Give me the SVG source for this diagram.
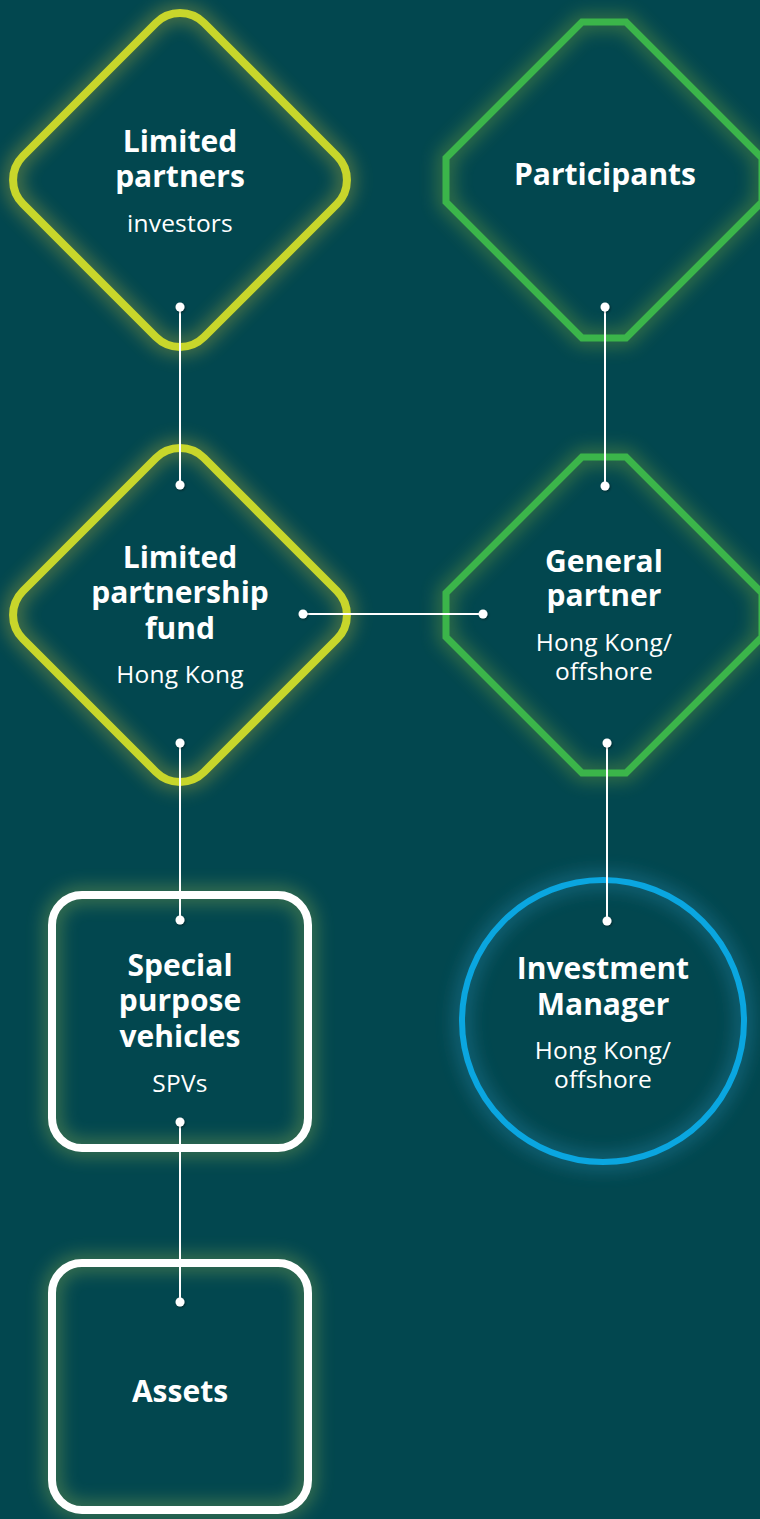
<svg xmlns="http://www.w3.org/2000/svg" width="760" height="1519" viewBox="0 0 760 1519">
<defs>
<filter id="blur" x="-30%" y="-30%" width="160%" height="160%"><feGaussianBlur stdDeviation="9"/></filter>
<filter id="dotshadow" x="-100%" y="-100%" width="300%" height="300%"><feDropShadow dx="1" dy="1" stdDeviation="1" flood-color="#000" flood-opacity="0.45"/></filter>
<rect id="dia" x="-128" y="-128" width="256" height="256" rx="34"/>
<polygon id="oct" points="-22,-158 22,-158 158,-22 158,22 22,158 -22,158 -158,22 -158,-22"/>
</defs>
<style>
.glow{fill:none;stroke-width:16;opacity:0.45;filter:url(#blur)}
.lime{fill:none;stroke:#c8d62b;stroke-width:8}
.green{fill:none;stroke:#3bb54a;stroke-width:7;stroke-linejoin:miter}
.blue{fill:none;stroke:#0aa6e0;stroke-width:6}
.white{fill:none;stroke:#ffffff;stroke-width:8}
.t{font-family:"Open Sans","Noto Sans","Liberation Sans",sans-serif;font-weight:700;font-size:30px;fill:#ffffff;text-anchor:middle}
.s{font-family:"Open Sans","Noto Sans","Liberation Sans",sans-serif;font-weight:400;font-size:24.5px;fill:#ffffff;text-anchor:middle;letter-spacing:0.2px}
.ln{stroke:#ffffff;stroke-width:2;fill:none}
.dot{fill:#ffffff;filter:url(#dotshadow)}
</style>
<rect x="0" y="0" width="760" height="1519" fill="#02474f"/>

<g id="limited-partners">
<use href="#dia" transform="translate(180,180) rotate(45)" class="glow" stroke="#b8b43a"/>
<use href="#dia" transform="translate(180,180) rotate(45)" class="lime"/>
<text class="t" x="180" y="152">Limited</text>
<text class="t" x="180" y="187">partners</text>
<text class="s" x="180" y="232">investors</text>
</g>

<g id="participants">
<use href="#oct" transform="translate(604,180)" class="glow" stroke="#7aa83a"/>
<use href="#oct" transform="translate(604,180)" class="green"/>
<text class="t" x="605" y="185">Participants</text>
</g>

<g id="limited-partnership-fund">
<use href="#dia" transform="translate(180,615) rotate(45)" class="glow" stroke="#b8b43a"/>
<use href="#dia" transform="translate(180,615) rotate(45)" class="lime"/>
<text class="t" x="180" y="568">Limited</text>
<text class="t" x="180" y="603">partnership</text>
<text class="t" x="180" y="639">fund</text>
<text class="s" x="180" y="683">Hong Kong</text>
</g>

<g id="general-partner">
<use href="#oct" transform="translate(604,615)" class="glow" stroke="#7aa83a"/>
<use href="#oct" transform="translate(604,615)" class="green"/>
<text class="t" x="604" y="572">General</text>
<text class="t" x="604" y="606">partner</text>
<text class="s" x="604" y="651">Hong Kong/</text>
<text class="s" x="604" y="680">offshore</text>
</g>

<g id="special-purpose-vehicles">
<rect x="52" y="895" width="256" height="253" rx="30" class="glow" stroke="#8fb050"/>
<rect x="52" y="895" width="256" height="253" rx="30" class="white"/>
<text class="t" x="180" y="976">Special</text>
<text class="t" x="180" y="1011">purpose</text>
<text class="t" x="180" y="1047">vehicles</text>
<text class="s" x="180" y="1092">SPVs</text>
</g>

<g id="investment-manager">
<circle cx="603" cy="1021" r="141" class="glow" stroke="#2a8ab0"/>
<circle cx="603" cy="1021" r="141" class="blue"/>
<text class="t" x="603" y="979">Investment</text>
<text class="t" x="603" y="1015">Manager</text>
<text class="s" x="603" y="1059">Hong Kong/</text>
<text class="s" x="603" y="1088">offshore</text>
</g>

<g id="assets">
<rect x="52" y="1263" width="256" height="247" rx="30" class="glow" stroke="#8fb050"/>
<rect x="52" y="1263" width="256" height="247" rx="30" class="white"/>
<text class="t" x="180" y="1402">Assets</text>
</g>

<g id="connectors">
<line class="ln" x1="180" y1="307" x2="180" y2="485"/>
<circle class="dot" cx="180" cy="307" r="4.5"/>
<circle class="dot" cx="180" cy="485" r="4.5"/>
<line class="ln" x1="605" y1="307" x2="605" y2="486"/>
<circle class="dot" cx="605" cy="307" r="4.5"/>
<circle class="dot" cx="605" cy="486" r="4.5"/>
<line class="ln" x1="303" y1="614" x2="483" y2="614"/>
<circle class="dot" cx="303" cy="614" r="4.5"/>
<circle class="dot" cx="483" cy="614" r="4.5"/>
<line class="ln" x1="180" y1="743" x2="180" y2="920"/>
<circle class="dot" cx="180" cy="743" r="4.5"/>
<circle class="dot" cx="180" cy="920" r="4.5"/>
<line class="ln" x1="607" y1="743" x2="607" y2="921"/>
<circle class="dot" cx="607" cy="743" r="4.5"/>
<circle class="dot" cx="607" cy="921" r="4.5"/>
<line class="ln" x1="180" y1="1122" x2="180" y2="1302"/>
<circle class="dot" cx="180" cy="1122" r="4.5"/>
<circle class="dot" cx="180" cy="1302" r="4.5"/>
</g>
</svg>
